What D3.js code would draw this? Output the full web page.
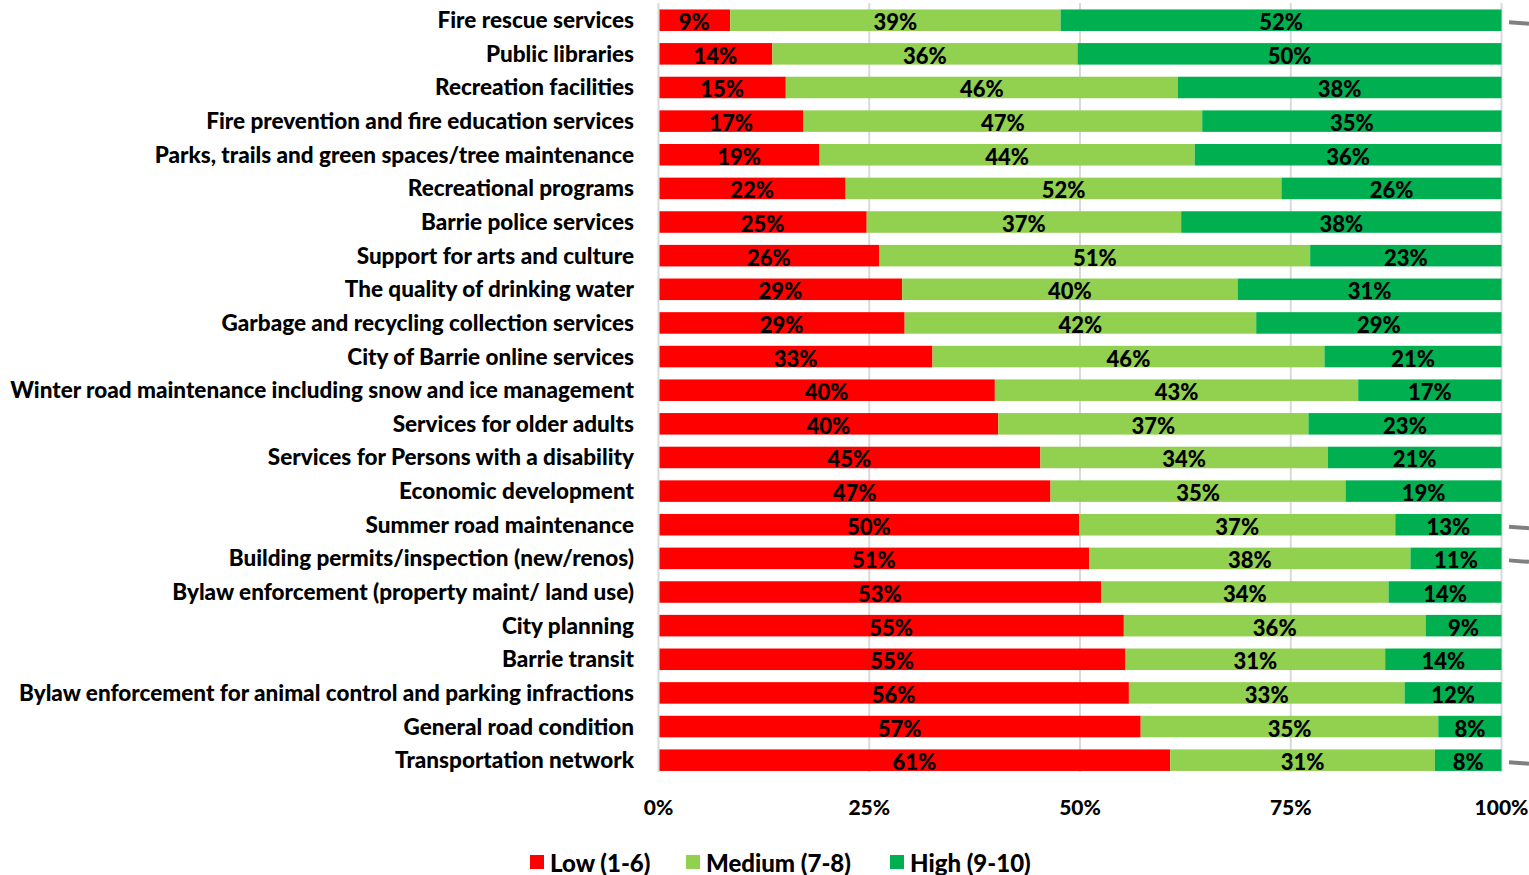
<!DOCTYPE html>
<html><head><meta charset="utf-8">
<script src="https://cdn.jsdelivr.net/npm/d3@7"></script>
<style>body{margin:0;background:#fff;} svg{display:block;} text{font-family:Lato,"Open Sans",sans-serif;font-weight:900;fill:#000;}</style>
</head><body><svg id="c" width="1529" height="875"></svg>
<script>
const categories = ["Fire rescue services","Public libraries","Recreation facilities","Fire prevention and fire education services","Parks, trails and green spaces/tree maintenance","Recreational programs","Barrie police services","Support for arts and culture","The quality of drinking water","Garbage and recycling collection services","City of Barrie online services","Winter road maintenance including snow and ice management","Services for older adults","Services for Persons with a disability","Economic development","Summer road maintenance","Building permits/inspection (new/renos)","Bylaw enforcement (property maint/ land use)","City planning","Barrie transit","Bylaw enforcement for animal control and parking infractions","General road condition","Transportation network"];
const lowValues    = [8.5,13.5,15.1,17.2,19.1,22.2,24.7,26.2,28.9,29.2,32.5,39.9,40.3,45.3,46.5,49.9,51.1,52.5,55.2,55.4,55.8,57.2,60.7];
const mediumValues = [39.2,36.2,46.5,47.3,44.5,51.7,37.3,51.1,39.8,41.7,46.5,43.1,36.8,34.1,35.0,37.5,38.1,34.1,35.8,30.8,32.7,35.3,31.4];
const highValues   = [52.3,50.3,38.4,35.5,36.4,26.1,38.0,22.7,31.3,29.1,21.0,17.0,22.9,20.6,18.5,12.6,10.8,13.4,9.0,13.8,11.5,7.5,7.9];
const lowLabels    = [9,14,15,17,19,22,25,26,29,29,33,40,40,45,47,50,51,53,55,55,56,57,61];
const mediumLabels = [39,36,46,47,44,52,37,51,40,42,46,43,37,34,35,37,38,34,36,31,33,35,31];
const highLabels   = [52,50,38,35,36,26,38,23,31,29,21,17,23,21,19,13,11,14,9,14,12,8,8];
const seriesNames  = ["Low (1-6)","Medium (7-8)","High (9-10)"];
const seriesColors = ["#FF0000","#92D050","#00B050"];
const xTicks = [0,25,50,75,100];
const sideMarks = [0,15,16,22]; // row indices with small grey marks at right edge

const svg = d3.select("#c");
const x = d3.scaleLinear().domain([0,100]).range([658.5,1501.5]);
const y = d3.scaleBand().domain(categories).range([3.4,777]).paddingInner(0.36).paddingOuter(0.18);

// gridlines
svg.append("g").selectAll("line").data(xTicks).join("line")
  .attr("x1",d=>x(d)).attr("x2",d=>x(d)).attr("y1",3).attr("y2",772)
  .attr("stroke","#d9d9d9").attr("stroke-width",2);

const vals = [lowValues,mediumValues,highValues];
const labs = [lowLabels,mediumLabels,highLabels];
const rows = categories.map((c,i)=>{
  let acc=0; return vals.map((v,s)=>{const seg={cat:c,s,x0:acc,x1:acc+v[i],label:labs[s][i]+"%"}; acc+=v[i]; return seg;});
});
const segs = rows.flat();
const barG = svg.append("g");
barG.selectAll("rect").data(segs).join("rect")
  .attr("x",d=>x(d.x0)+(d.s===0?1:0)).attr("width",d=>x(d.x1)-x(d.x0)-(d.s===0?1:0))
  .attr("y",d=>y(d.cat)).attr("height",y.bandwidth())
  .attr("fill",d=>seriesColors[d.s]);
barG.selectAll("text").data(segs).join("text")
  .attr("x",d=>x((d.x0+d.x1)/2)).attr("y",d=>y(d.cat)+y.bandwidth()/2+1.5)
  .attr("text-anchor","middle").attr("dominant-baseline","central")
  .style("font-size","22px").text(d=>d.label);

// category labels
const catG = svg.append("g");
catG.selectAll("text").data(categories).join("text")
  .attr("x",634).attr("y",d=>y(d)+y.bandwidth()/2-0.5)
  .attr("text-anchor","end").attr("dominant-baseline","central")
  .style("font-size","20px").text(d=>d);
// fit longest to 624px
const longest = catG.selectAll("text").nodes().reduce((m,n)=>Math.max(m,n.getComputedTextLength()),0);
const fs = 20*624/longest;
catG.selectAll("text").style("font-size",fs+"px");

// x tick labels
svg.append("g").selectAll("text").data(xTicks).join("text")
  .attr("x",d=>x(d)).attr("y",806).attr("text-anchor","middle").attr("dominant-baseline","central")
  .style("font-size","21px").text(d=>d+"%");

// side marks
svg.append("g").selectAll("line").data(sideMarks).join("line")
  .attr("x1",1509).attr("x2",1529)
  .attr("y1",d=>y(categories[d])+y.bandwidth()/2+2).attr("y2",d=>y(categories[d])+y.bandwidth()/2+3.5)
  .attr("stroke","#808080").attr("stroke-width",4);

// legend
const legX = [530,686,890];
const lg = svg.append("g").selectAll("g").data(seriesNames).join("g")
  .attr("transform",(d,i)=>`translate(${legX[i]},855)`);
lg.append("rect").attr("width",14).attr("height",14).attr("fill",(d,i)=>seriesColors[i]);
lg.append("text").attr("x",20).attr("y",7).attr("dominant-baseline","central").style("font-size","24px").text(d=>d);
</script></body></html>
